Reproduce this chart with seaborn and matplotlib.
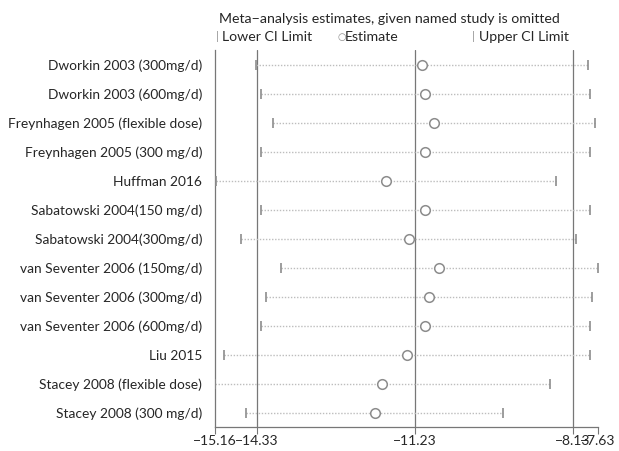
""" Influence analysis: meta-analysis estimates with each study omitted. """

import numpy as np
import pandas as pd
from matplotlib import pyplot as plt
import seaborn as sns

########
# Data #
########
studies = [
    'Dworkin 2003 (300mg/d)',
    'Dworkin 2003 (600mg/d)',
    'Freynhagen 2005 (flexible dose)',
    'Freynhagen 2005 (300 mg/d)',
    'Huffman 2016',
    'Sabatowski 2004(150 mg/d)',
    'Sabatowski 2004(300mg/d)',
    'van Seventer 2006 (150mg/d)',
    'van Seventer 2006 (300mg/d)',
    'van Seventer 2006 (600mg/d)',
    'Liu 2015',
    'Stacey 2008 (flexible dose)',
    'Stacey 2008 (300 mg/d)',
]
estimate = [-11.09, -11.02, -10.85, -11.03, -11.79, -11.02, -11.34,
            -10.76, -10.96, -11.03, -11.38, -11.88, -12.01]
lower_ci = [-14.36, -14.25, -14.02, -14.26, -15.13, -14.25, -14.64,
            -13.85, -14.16, -14.25, -14.98, -15.16, -14.55]
upper_ci = [-7.83, -7.78, -7.69, -7.78, -8.45, -7.78, -8.06,
            -7.63, -7.75, -7.78, -7.78, -8.58, -9.49]

# overall (all studies) estimate and CI
overall = [-14.33, -11.23, -8.13]
xticks = [-15.16, -14.33, -11.23, -8.13, -7.63]

df = pd.DataFrame({'study': studies, 'est': estimate,
                   'lo': lower_ci, 'hi': upper_ci})
df['row'] = np.arange(len(df))

#########
# Plot  #
#########
sns.set_style('ticks')
plt.rcParams['font.family'] = ['Lato', 'DejaVu Sans']

grey = '#8c8c8c'
fig = plt.figure(figsize=(6.19, 4.51), dpi=100)
ax = fig.add_axes([0.347, 0.053, 0.619, 0.836])

# overall lines
for v in overall:
    ax.axvline(v, color='#777777', lw=0.9, zorder=1)

# dotted CI lines
ax.hlines(df['row'], df['lo'], df['hi'], colors='#bdbdbd',
          linestyles=(0, (1, 1.2)), lw=1.0, zorder=2)

# CI limits
sns.scatterplot(data=df, x='lo', y='row', marker='|', s=55, color=grey,
                linewidth=1.2, ax=ax, zorder=3, legend=False)
sns.scatterplot(data=df, x='hi', y='row', marker='|', s=55, color=grey,
                linewidth=1.2, ax=ax, zorder=3, legend=False)
# estimates
sns.scatterplot(data=df, x='est', y='row', marker='o', s=48,
                facecolor='white', edgecolor=grey, linewidth=1.1,
                ax=ax, zorder=4, legend=False)

ax.set_xlim(-15.16, -7.63)
ax.set_ylim(len(df) - 0.5, -0.5)
ax.set_yticks(df['row'])
ax.set_yticklabels(df['study'], fontsize=9.9)
ax.tick_params(axis='y', length=0, pad=9)
ax.set_xticks(xticks)
ax.set_xticklabels([f'\u2212{abs(t):.2f}' for t in xticks], fontsize=10)
ax.tick_params(axis='x', length=5, color='#777777', pad=1)
ax.set_xlabel('')
ax.set_ylabel('')
sns.despine(ax=ax, top=True, right=True)
for s in ['left', 'bottom']:
    ax.spines[s].set_color('#777777')
    ax.spines[s].set_linewidth(0.9)

# title and legend
fig.text(219 / 619, 0.957, 'Meta\u2212analysis estimates, given named study is omitted',
         fontsize=10.2, va='center', ha='left')
ly = 0.918
fig.text(216 / 619, ly, '|', color=grey, fontsize=8, va='center')
fig.text(222 / 619, ly, 'Lower CI Limit', fontsize=10.2, va='center')
fig.text(338 / 619, ly, '\u25cb', color=grey, fontsize=7, va='center',
         family='DejaVu Sans')
fig.text(345 / 619, ly, 'Estimate', fontsize=10.2, va='center')
fig.text(472 / 619, ly, '|', color=grey, fontsize=8, va='center')
fig.text(479 / 619, ly, 'Upper CI Limit', fontsize=10.2, va='center')

fig.savefig('out.png', dpi=100)
